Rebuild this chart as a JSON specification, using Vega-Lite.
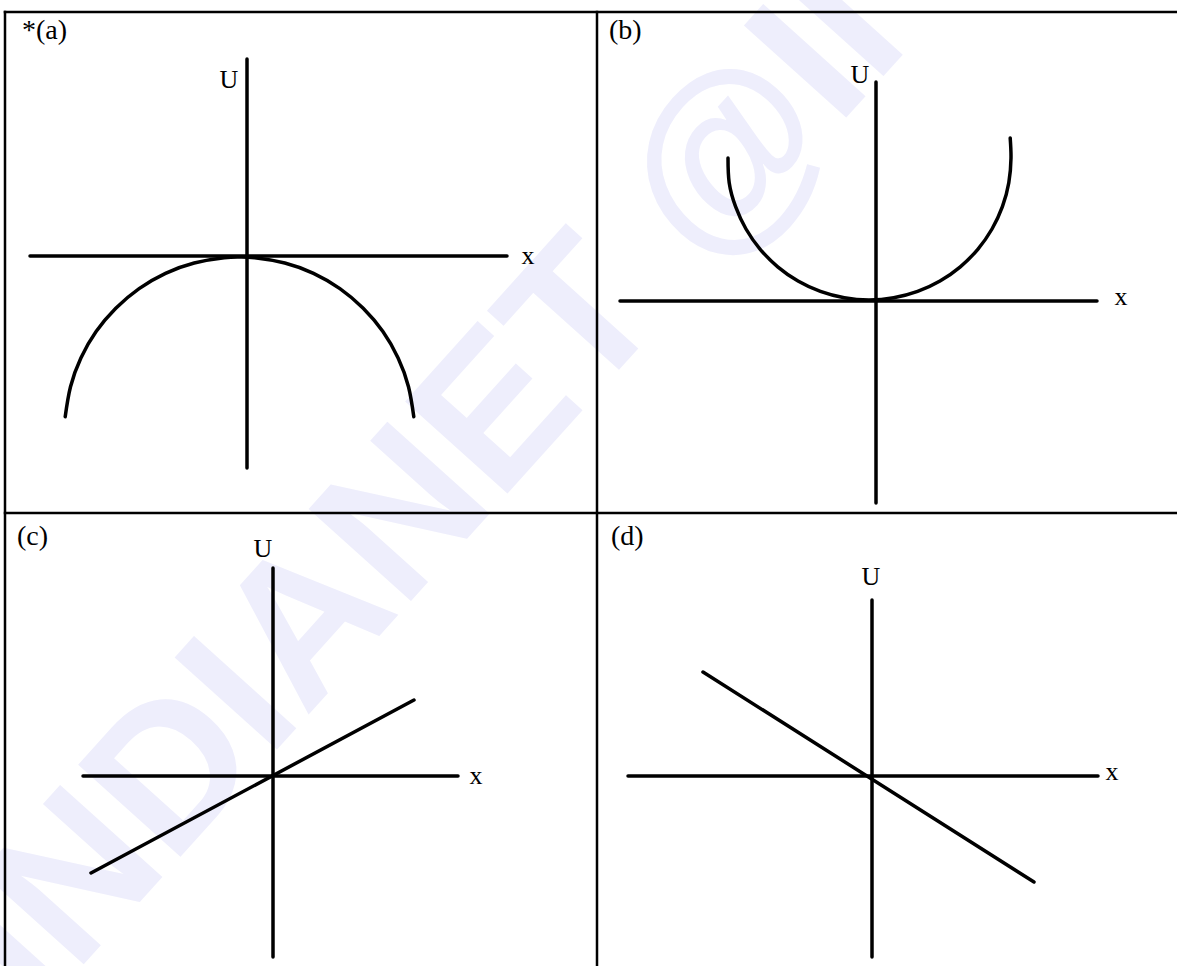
{
  "$schema": "https://vega.github.io/schema/vega-lite/v6.json",
  "width": 1177,
  "height": 966,
  "padding": 0,
  "autosize": {"type": "none"},
  "background": "white",
  "config": {"view": {"stroke": null}},
  "datasets": {
    "watermark": [{"x": 430, "y": 490, "t": "INDIANET @II"}],
    "frame": [
      {"x": 5, "y": 12, "x2": 1177, "y2": 12},
      {"x": 5, "y": 12, "x2": 5, "y2": 966},
      {"x": 597, "y": 12, "x2": 597, "y2": 966},
      {"x": 5, "y": 513, "x2": 1177, "y2": 513}
    ],
    "axes": [
      {"panel": "a", "x": 247, "y": 59, "x2": 247, "y2": 468},
      {"panel": "a", "x": 30, "y": 256, "x2": 507, "y2": 256},
      {"panel": "b", "x": 876, "y": 82, "x2": 876, "y2": 503},
      {"panel": "b", "x": 620, "y": 301, "x2": 1097, "y2": 301},
      {"panel": "c", "x": 273, "y": 568, "x2": 273, "y2": 957},
      {"panel": "c", "x": 83, "y": 776, "x2": 458, "y2": 776},
      {"panel": "c", "x": 91, "y": 873, "x2": 414, "y2": 700},
      {"panel": "d", "x": 872, "y": 600, "x2": 872, "y2": 957},
      {"panel": "d", "x": 628, "y": 776, "x2": 1098, "y2": 776},
      {"panel": "d", "x": 703, "y": 672, "x2": 1034, "y2": 882}
    ],
    "arcs": [
      {"curve": "a", "i": 0, "x": 65.2, "y": 416.7},
      {"curve": "a", "i": 1, "x": 70.5, "y": 386.7},
      {"curve": "a", "i": 2, "x": 80.9, "y": 358.0},
      {"curve": "a", "i": 3, "x": 96.1, "y": 331.6},
      {"curve": "a", "i": 4, "x": 115.8, "y": 308.3},
      {"curve": "a", "i": 5, "x": 139.1, "y": 288.6},
      {"curve": "a", "i": 6, "x": 165.5, "y": 273.4},
      {"curve": "a", "i": 7, "x": 194.2, "y": 263.0},
      {"curve": "a", "i": 8, "x": 224.2, "y": 257.7},
      {"curve": "a", "i": 9, "x": 239.5, "y": 257.0},
      {"curve": "a", "i": 10, "x": 254.8, "y": 257.7},
      {"curve": "a", "i": 11, "x": 284.8, "y": 263.0},
      {"curve": "a", "i": 12, "x": 313.5, "y": 273.4},
      {"curve": "a", "i": 13, "x": 339.9, "y": 288.6},
      {"curve": "a", "i": 14, "x": 363.2, "y": 308.3},
      {"curve": "a", "i": 15, "x": 382.9, "y": 331.6},
      {"curve": "a", "i": 16, "x": 398.1, "y": 358.0},
      {"curve": "a", "i": 17, "x": 408.5, "y": 386.7},
      {"curve": "a", "i": 18, "x": 413.8, "y": 416.7},
      {"curve": "b", "i": 0, "x": 728.0, "y": 158.0},
      {"curve": "b", "i": 1, "x": 729.2, "y": 182.7},
      {"curve": "b", "i": 2, "x": 735.6, "y": 206.6},
      {"curve": "b", "i": 3, "x": 746.0, "y": 229.0},
      {"curve": "b", "i": 4, "x": 760.2, "y": 249.3},
      {"curve": "b", "i": 5, "x": 777.7, "y": 266.8},
      {"curve": "b", "i": 6, "x": 798.0, "y": 281.0},
      {"curve": "b", "i": 7, "x": 820.4, "y": 291.4},
      {"curve": "b", "i": 8, "x": 844.3, "y": 297.8},
      {"curve": "b", "i": 9, "x": 869.0, "y": 300.0},
      {"curve": "b", "i": 10, "x": 893.7, "y": 297.8},
      {"curve": "b", "i": 11, "x": 917.6, "y": 291.4},
      {"curve": "b", "i": 12, "x": 940.0, "y": 281.0},
      {"curve": "b", "i": 13, "x": 960.3, "y": 266.8},
      {"curve": "b", "i": 14, "x": 977.8, "y": 249.3},
      {"curve": "b", "i": 15, "x": 992.0, "y": 229.0},
      {"curve": "b", "i": 16, "x": 1002.4, "y": 206.6},
      {"curve": "b", "i": 17, "x": 1008.8, "y": 182.7},
      {"curve": "b", "i": 18, "x": 1011.0, "y": 158.0},
      {"curve": "b", "i": 19, "x": 1010.2, "y": 138.0}
    ],
    "panelLabels": [
      {"x": 22, "y": 31, "t": "*(a)"},
      {"x": 609, "y": 31, "t": "(b)"},
      {"x": 17, "y": 537, "t": "(c)"},
      {"x": 611, "y": 537, "t": "(d)"}
    ],
    "axisLabels": [
      {"x": 229, "y": 80, "t": "U"},
      {"x": 528, "y": 256, "t": "x"},
      {"x": 860, "y": 75, "t": "U"},
      {"x": 1121, "y": 297, "t": "x"},
      {"x": 263, "y": 549, "t": "U"},
      {"x": 476, "y": 776, "t": "x"},
      {"x": 871, "y": 577, "t": "U"},
      {"x": 1112, "y": 772, "t": "x"}
    ]
  },
  "encoding": {
    "x": {"field": "x", "type": "quantitative", "scale": {"domain": [0, 1177], "nice": false, "zero": false}, "axis": null},
    "y": {"field": "y", "type": "quantitative", "scale": {"domain": [0, 966], "nice": false, "zero": false, "reverse": true}, "axis": null}
  },
  "layer": [
    {
      "data": {"name": "watermark"},
      "mark": {"type": "text", "font": "Liberation Sans", "fontWeight": "bold", "fontSize": 200, "angle": -48, "align": "center", "baseline": "middle", "color": "#EEEEFC"},
      "encoding": {"text": {"field": "t"}}
    },
    {
      "data": {"name": "frame"},
      "mark": {"type": "rule", "strokeWidth": 2.5, "color": "black", "strokeCap": "square"},
      "encoding": {"x2": {"field": "x2"}, "y2": {"field": "y2"}}
    },
    {
      "data": {"name": "axes"},
      "mark": {"type": "rule", "strokeWidth": 3.5, "color": "black", "strokeCap": "round"},
      "encoding": {"x2": {"field": "x2"}, "y2": {"field": "y2"}, "detail": {"field": "panel"}}
    },
    {
      "data": {"name": "arcs"},
      "mark": {"type": "line", "strokeWidth": 3.5, "color": "black", "interpolate": "natural", "strokeCap": "round"},
      "encoding": {"detail": {"field": "curve"}, "order": {"field": "i", "type": "quantitative"}}
    },
    {
      "data": {"name": "panelLabels"},
      "mark": {"type": "text", "font": "Liberation Serif", "fontSize": 28, "align": "left", "baseline": "middle", "color": "black"},
      "encoding": {"text": {"field": "t"}}
    },
    {
      "data": {"name": "axisLabels"},
      "mark": {"type": "text", "font": "Liberation Serif", "fontSize": 26, "align": "center", "baseline": "middle", "color": "black"},
      "encoding": {"text": {"field": "t"}}
    }
  ]
}
